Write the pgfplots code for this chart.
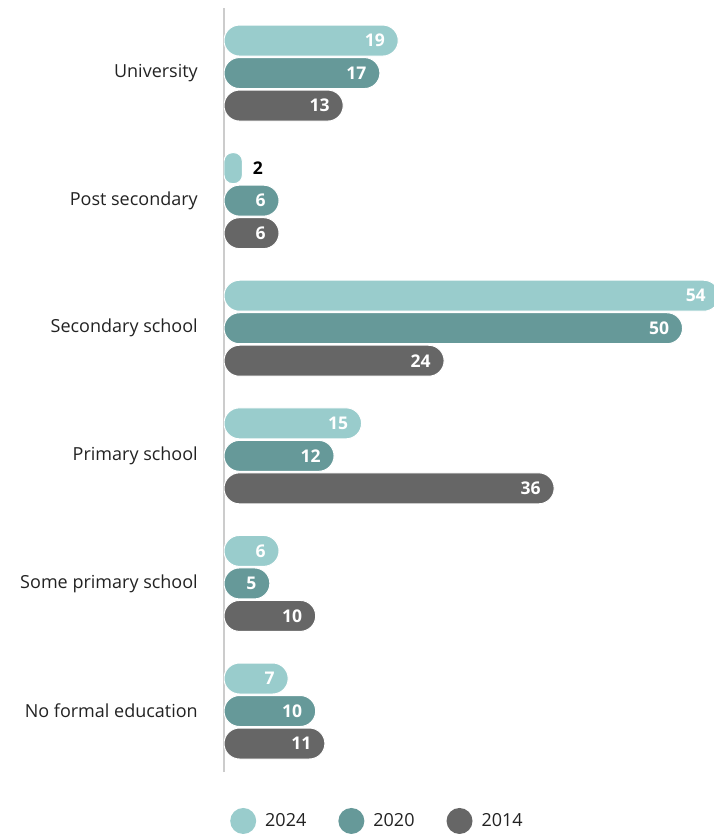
\documentclass[border=0pt]{standalone}
\usepackage{pgfplots}
\pgfplotsset{compat=1.18}
\usepackage{fontspec}
\setmainfont{Open Sans}
\usetikzlibrary{calc}
\definecolor{cA}{HTML}{99CCCC}
\definecolor{cB}{HTML}{669999}
\definecolor{cC}{HTML}{666666}
\definecolor{axgray}{HTML}{CCCCCC}
\definecolor{labtxt}{HTML}{222222}
\begin{document}
\begin{tikzpicture}
\begin{axis}[
  scale only axis, width=504.4pt, height=764pt,
  xbar, bar width=31pt,
  xmin=0, xmax=55, ymin=-0.478, ymax=5.51,
  axis x line=none, axis y line*=left,
  axis line style={draw=axgray, line width=1.5pt},
  ytick={0,...,5},
  yticklabels={No formal education, Some primary school, Primary school, Secondary school, Post secondary, University},
  major tick length=0pt,
  yticklabel style={font=\fontsize{18}{20}\selectfont, text=labtxt, inner sep=0pt, xshift=-26pt},
  nodes near coords={\pgfmathprintnumber[assume math mode=true]{\pgfplotspointmeta}},
  every node near coord/.append style={font=\fontsize{17.5}{20}\selectfont\bfseries, text=white, anchor=east, xshift=-13pt, inner sep=0pt},
  legend style={draw=none, fill=none, at={(axis description cs:0.0119,-0.0641)}, anchor=west,
    font=\fontsize{18}{20}\selectfont, text=labtxt,
    /tikz/every even column/.append style={column sep=32pt},
    /tikz/every odd column/.append style={column sep=9pt},
    inner sep=0pt, nodes={inner sep=0pt}},
  legend columns=-1,
  legend image code/.code={\fill[#1,draw=none] (13pt,0pt) circle (13pt);},
]
\coordinate (bl) at (rel axis cs:0,0);
\coordinate (tl) at (rel axis cs:0,1);
% 2024
\addplot[fill=cA, draw=white, line width=1pt, rounded corners=15.5pt, bar shift=32.5pt]
  coordinates {(7,0) (6,1) (15,2) (54,3) (19,5)};
\addlegendentry{2024}
\addplot[fill=cA, draw=white, line width=1pt, rounded corners=8.5pt, bar shift=32.5pt, forget plot,
  every node near coord/.append style={text=black, anchor=west, xshift=23pt}]
  coordinates {(2,4)};
% 2020
\addplot[fill=cB, draw=white, line width=1pt, rounded corners=15.5pt, bar shift=0pt]
  coordinates {(10,0) (5,1) (12,2) (50,3) (6,4) (17,5)};
\addlegendentry{2020}
% 2014
\addplot[fill=cC, draw=white, line width=1pt, rounded corners=15.5pt, bar shift=-32.5pt]
  coordinates {(11,0) (10,1) (36,2) (24,3) (6,4) (13,5)};
\addlegendentry{2014}
\end{axis}
\pgfresetboundingbox
\path ($(bl)+(-224pt,-62pt)$) rectangle ($(tl)+(489pt,8pt)$);
\end{tikzpicture}
\end{document}
